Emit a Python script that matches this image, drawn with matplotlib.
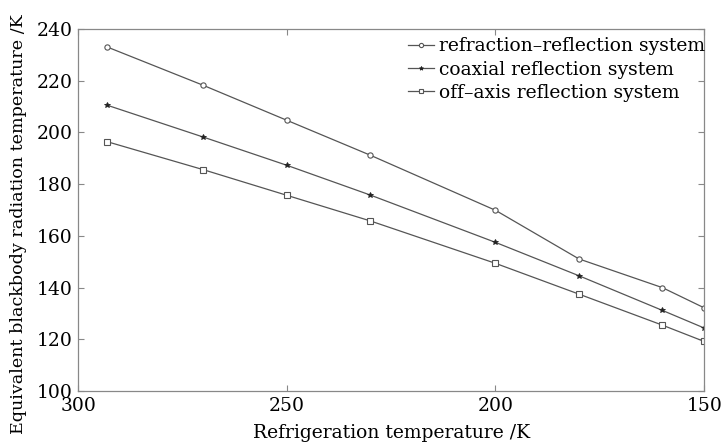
import matplotlib
matplotlib.use("Agg")
import matplotlib.pyplot as plt

temps = [293, 270, 250, 230, 200, 180, 160, 150]
refraction_reflection = [233.0, 218.2, 204.7, 191.2, 169.9, 151.1, 140.0, 132.2]
coaxial_reflection = [210.5, 198.2, 187.3, 175.8, 157.5, 144.6, 131.2, 124.4]
off_axis_reflection = [196.4, 185.6, 175.7, 165.8, 149.4, 137.5, 125.5, 119.2]
labels = ["refraction\u2013reflection system", "coaxial reflection system",
          "off\u2013axis reflection system"]

plt.rcParams['font.family'] = ['DejaVu Serif']
fig = plt.figure(figsize=(7.23, 4.45), dpi=100)
ax = fig.add_axes([0.108, 0.121, 0.866, 0.814])

lc = '#555555'
ax.plot(temps, refraction_reflection, color=lc, lw=0.9, marker='o', ms=3.8,
        mfc='white', mec=lc, mew=0.8, label=labels[0])
ax.plot(temps, coaxial_reflection, color=lc, lw=0.9, marker='*', ms=3.8,
        mfc='#222222', mec='#222222', mew=0.6, label=labels[1])
ax.plot(temps, off_axis_reflection, color=lc, lw=0.9, marker='s', ms=3.8,
        mfc='white', mec=lc, mew=0.8, label=labels[2])

ax.set_xlim(300, 150)
ax.set_ylim(100, 240)
ax.set_xticks([300, 250, 200, 150])
ax.set_yticks(range(100, 241, 20))
for s in ax.spines.values():
    s.set_color('#888888')
    s.set_linewidth(0.9)
ax.tick_params(direction='in', length=4, width=0.8, color='#888888',
               top=True, right=True, labelsize=13.5, pad=4)
ax.set_xlabel("Refrigeration temperature /K", fontsize=13.5, labelpad=7)
ax.set_ylabel("Equivalent blackbody radiation temperature /K", fontsize=12.6)
ax.yaxis.set_label_coords(-0.082, 0.462)

ax.legend(loc='upper right', bbox_to_anchor=(1.008, 0.987), frameon=False,
          fontsize=13.5, handlelength=1.4, handletextpad=0.3, labelspacing=0.28,
          borderaxespad=0.0, borderpad=0.2, markerscale=0.8)

fig.savefig("out.png", dpi=100)
